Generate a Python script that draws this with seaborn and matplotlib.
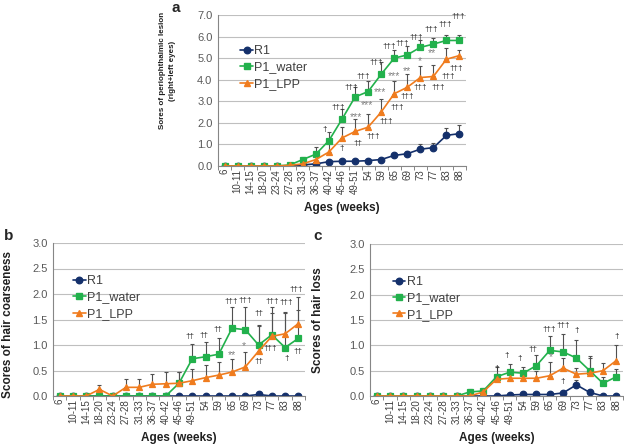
import numpy as np
import pandas as pd
import seaborn as sns
import matplotlib.pyplot as plt
from matplotlib.lines import Line2D

# ---------------- data ----------------
ages = ["6", "10-11", "14-15", "18-20", "23-24", "27-28", "31-33", "36-37", "40-42",
        "45-46", "49-51", "54", "59", "65", "69", "73", "77", "83", "88"]
groups = ["R1", "P1_water", "P1_LPP"]

# panel a: periophthalmic lesion
a_r1 = [0, 0, 0, 0, 0, 0, 0.05, 0.1, 0.2, 0.22, 0.22, 0.25, 0.3, 0.49, 0.57, 0.78, 0.85, 1.42, 1.5]
a_water = [0, 0, 0, 0, 0, 0.05, 0.3, 0.55, 1.18, 2.17, 3.2, 3.45, 4.25, 5.0, 5.15, 5.5, 5.65, 5.82, 5.82]
a_lpp = [0, 0, 0, 0, 0, 0.03, 0.1, 0.3, 0.65, 1.3, 1.6, 1.8, 2.5, 3.35, 3.65, 4.1, 4.15, 4.95, 5.12]
a_r1_err = [0, 0, 0, 0, 0, 0, 0.03, 0.05, 0.05, 0.05, 0.05, 0.05, 0.08, 0.1, 0.12, 0.25, 0.2, 0.35, 0.38]
a_water_err = [0, 0, 0, 0, 0, 0.05, 0.12, 0.33, 0.4, 0.45, 0.45, 0.5, 0.55, 0.4, 0.4, 0.35, 0.3, 0.25, 0.25]
a_lpp_err = [0, 0, 0, 0, 0, 0.03, 0.05, 0.2, 0.45, 0.5, 0.6, 0.6, 0.6, 0.6, 0.6, 0.55, 0.55, 0.5, 0.25]

# panel b: hair coarseness
b_r1 = [0, 0, 0, 0, 0, 0, 0, 0, 0, 0, 0, 0, 0, 0, 0, 0.03, 0, 0, 0]
b_water = [0, 0, 0, 0, 0, 0, 0, 0, 0, 0.25, 0.73, 0.77, 0.82, 1.33, 1.3, 1.0, 1.2, 0.95, 1.13]
b_lpp = [0, 0, 0, 0.13, 0, 0.17, 0.17, 0.23, 0.24, 0.25, 0.3, 0.36, 0.41, 0.47, 0.57, 0.88, 1.17, 1.22, 1.42]
b_r1_err = [0, 0, 0, 0, 0, 0, 0, 0, 0, 0, 0, 0, 0, 0, 0, 0.04, 0, 0, 0]
b_water_err = [0, 0, 0, 0, 0, 0, 0, 0, 0, 0.22, 0.29, 0.29, 0.32, 0.41, 0.44, 0.4, 0.54, 0.7, 0.82]
b_lpp_err = [0, 0, 0, 0.09, 0, 0.16, 0.16, 0.21, 0.23, 0.22, 0.23, 0.25, 0.25, 0.26, 0.29, 0.5, 0.45, 0.4, 0.27]

# panel c: hair loss
c_r1 = [0, 0, 0, 0, 0, 0, 0, 0, 0, 0, 0.02, 0.03, 0.03, 0.03, 0.06, 0.22, 0.07, 0, 0]
c_water = [0, 0, 0, 0, 0, 0, 0, 0.08, 0.1, 0.38, 0.47, 0.45, 0.6, 0.9, 0.87, 0.75, 0.5, 0.25, 0.38]
c_lpp = [0, 0, 0, 0, 0, 0, 0, 0, 0.08, 0.33, 0.35, 0.35, 0.35, 0.4, 0.55, 0.43, 0.45, 0.5, 0.7]
c_r1_err = [0, 0, 0, 0, 0, 0, 0, 0, 0, 0, 0, 0, 0, 0, 0.03, 0.09, 0.03, 0, 0]
c_water_err = [0, 0, 0, 0, 0, 0, 0, 0.05, 0.05, 0.2, 0.17, 0.12, 0.2, 0.28, 0.35, 0.35, 0.28, 0.12, 0.15]
c_lpp_err = [0, 0, 0, 0, 0, 0, 0, 0, 0.03, 0.1, 0.1, 0.12, 0.15, 0.27, 0.2, 0.12, 0.3, 0.15, 0.3]

# significance marks: (category position, score, text)
a_daggers = [(7.7, 1.67, "†"), (8.7, 2.69, "†††"), (9.7, 3.66, "†††"), (10.6, 4.17, "†††"),
             (11.6, 4.78, "†††"), (12.6, 5.56, "†††"), (13.6, 5.70, "†††"), (14.7, 5.98, "†††"),
             (15.8, 6.35, "†††"), (16.9, 6.58, "†††"), (17.9, 6.95, "†††"),
             (9.0, 0.83, "†"), (10.2, 1.02, "††"), (11.4, 1.35, "†††"), (12.4, 2.04, "†††"),
             (13.2, 2.69, "†††"), (14.0, 3.2, "†††"), (15.0, 3.62, "†††"), (16.4, 3.62, "†††"),
             (17.1, 4.13, "†††"), (17.75, 4.54, "†††")]
a_stars = [(10.1, 2.27, "***"), (10.9, 2.83, "***"), (11.9, 3.43, "***"), (12.95, 4.15, "***"),
           (14.0, 4.42, "**"), (15.0, 4.87, "*"), (15.9, 5.24, "**")]
b_daggers = [(9.85, 1.16, "††"), (10.9, 1.18, "††"), (11.9, 1.31, "††"), (12.9, 1.85, "†††"),
             (14.0, 1.88, "†††"), (15.0, 1.62, "††"), (16.0, 1.86, "†††"), (17.05, 1.83, "†††"),
             (17.8, 2.08, "†††"), (15.0, 0.67, "††"), (15.9, 0.93, "†††"), (17.1, 0.74, "†"),
             (18.0, 0.87, "††")]
b_stars = [(13.0, 0.81, "**"), (13.9, 0.98, "*")]
c_daggers = [(9.05, 0.54, "†"), (9.75, 0.8, "†"), (10.75, 0.74, "†"), (11.7, 0.92, "††"),
             (12.95, 1.31, "†††"), (14.0, 1.4, "†††"), (15.05, 1.3, "†"), (14.0, 0.28, "†"),
             (18.05, 1.18, "†")]
c_stars = [(13.05, 0.77, "*")]

colors = {"R1": "#14306B", "P1_water": "#22B14C", "P1_LPP": "#F07C1E"}
markers = ["o", "s", "^"]

# ---------------- style ----------------
sns.set_theme(style="white")
plt.rcParams["font.family"] = ["Liberation Sans", "DejaVu Sans"]
TXT = "#404040"

fig = plt.figure(figsize=(6.24, 4.44), dpi=100)
W, H = 624.0, 444.0


def add_ax(l, r, t, b):
    return fig.add_axes([l / W, 1 - b / H, (r - l) / W, (b - t) / H])


ax_a = add_ax(218, 466, 15, 166)
ax_b = add_ax(53, 305, 243, 396)
ax_c = add_ax(370, 623, 244, 396)

MS = 4.7


def panel(ax, r1, water, lpp, errs, ymax, ystep, dag, stars, leg_xy):
    df = pd.DataFrame({
        "age": ages * 3,
        "score": list(r1) + list(water) + list(lpp),
        "group": ["R1"] * len(ages) + ["P1_water"] * len(ages) + ["P1_LPP"] * len(ages),
    })
    sns.pointplot(data=df, x="age", y="score", hue="group", order=ages, hue_order=groups,
                  palette=colors, markers=markers, linestyles="-", errorbar=None,
                  markersize=MS, linewidth=1.2, ax=ax)
    xpos = np.arange(len(ages))
    for vals, err in zip([r1, water, lpp], errs):
        vals = np.asarray(vals, float)
        err = np.asarray(err, float)
        m = err > 0
        ax.errorbar(xpos[m], vals[m], yerr=[np.zeros(m.sum()), err[m]], fmt="none",
                    ecolor="#505050", elinewidth=0.8, capsize=1.2, capthick=0.8, zorder=1.5)
    ax.set_ylim(0, ymax)
    ax.set_xlim(-0.5, len(ages) - 0.5)
    yt = np.arange(0, ymax + 1e-9, ystep)
    ax.set_yticks(yt)
    ax.set_yticklabels([f"{v:.1f}" for v in yt], fontsize=8, color="#595959")
    ax.set_xticks(xpos)
    ax.set_xticklabels(ages, rotation=90, fontsize=7, color="#404040")
    ax.set_xticks(np.arange(-0.5, len(ages), 1), minor=True)
    ax.tick_params(axis="x", which="major", length=0, pad=2)
    ax.tick_params(axis="x", which="minor", bottom=True, length=3, width=0.7, color="#868686")
    ax.tick_params(axis="y", length=0, pad=4)
    ax.yaxis.grid(True, color="#BFBFBF", linewidth=0.8)
    ax.xaxis.grid(False)
    ax.set_axisbelow(True)
    for s in ["top", "right"]:
        ax.spines[s].set_visible(False)
    for s in ["left", "bottom"]:
        ax.spines[s].set_color("#868686")
        ax.spines[s].set_linewidth(0.8)
    for x, y, t in dag:
        ax.text(x, y, t, ha="center", va="center", fontsize=5.8, color="#202020")
    for x, y, t in stars:
        ax.text(x, y, t, ha="center", va="center", fontsize=7.5, color="#808080")
    ax.set_xlabel("Ages (weeks)", fontsize=8.5, fontweight="bold", color="#202020", labelpad=6)
    handles = [Line2D([], [], color=colors[g], marker=mk, markersize=MS, linewidth=1.2)
               for g, mk in zip(groups, markers)]
    ax.legend(handles, groups, loc="upper left", bbox_to_anchor=leg_xy, frameon=False,
              fontsize=9, handlelength=1.0, handletextpad=0.1, labelspacing=0.35,
              borderpad=0, borderaxespad=0, labelcolor=TXT)


panel(ax_a, a_r1, a_water, a_lpp, [a_r1_err, a_water_err, a_lpp_err], 7.0, 1.0,
      a_daggers, a_stars, (0.09, 0.80))
panel(ax_b, b_r1, b_water, b_lpp, [b_r1_err, b_water_err, b_lpp_err], 3.0, 0.5,
      b_daggers, b_stars, (0.08, 0.79))
panel(ax_c, c_r1, c_water, c_lpp, [c_r1_err, c_water_err, c_lpp_err], 3.0, 0.5,
      c_daggers, c_stars, (0.09, 0.79))

ax_a.set_ylabel("Sores of periophthalmic lesion\n(right+left eyes)", fontsize=5.8,
                fontweight="bold", color="#202020", linespacing=1.5)
ax_a.yaxis.set_label_coords(-0.17, 0.63)
ax_b.set_ylabel("Scores of hair coarseness", fontsize=8.5, fontweight="bold", color="#202020")
ax_b.yaxis.set_label_coords(-0.155, 0.47)
ax_c.set_ylabel("Scores of hair loss", fontsize=8.5, fontweight="bold", color="#202020")
ax_c.yaxis.set_label_coords(-0.18, 0.5)

fig.text(172 / W, 1 - 8 / H, "a", fontsize=11, fontweight="bold", ha="left", va="center")
fig.text(4 / W, 1 - 236 / H, "b", fontsize=11, fontweight="bold", ha="left", va="center")
fig.text(313 / W, 1 - 236 / H, "c", fontsize=11, fontweight="bold", ha="left", va="center")

fig.savefig("out.png", dpi=100)
